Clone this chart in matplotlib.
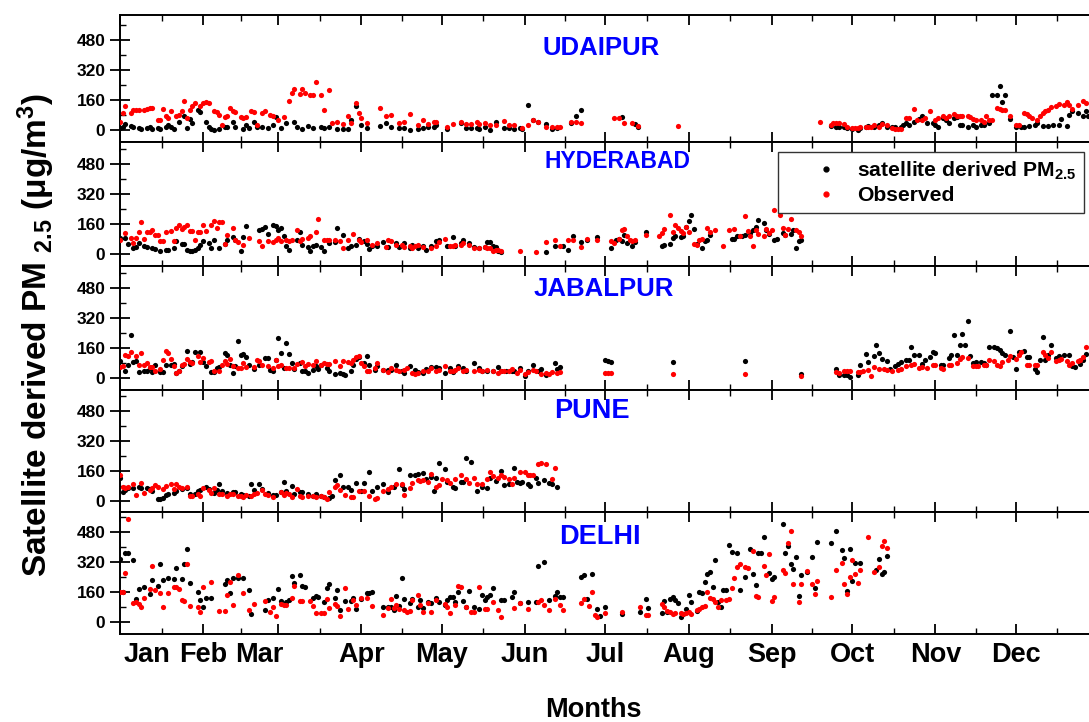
import matplotlib
matplotlib.use("Agg")
import matplotlib.pyplot as plt
from matplotlib.lines import Line2D
from matplotlib.ticker import FixedLocator

plt.rcParams['font.family'] = ['Liberation Sans', 'DejaVu Sans']
plt.rcParams['font.weight'] = 'bold'
plt.rcParams['mathtext.default'] = 'regular'

# ---------------- data (day of year, PM2.5 in ug/m3) ----------------
udaipur_sat_day = [0,1,2,4,5,7,8,10,11,12,14,15,17,18,19,20,22,24,25,26,27,29,30,32,33,34,35,37,39,40,42,43,46,47,48,50,51,53,55,57,58,60,62,65,66,68,70,72,75,76,78,81,83,85,86,88,90,92,97,99,101,104,106,108,111,113,115,117,118,122,127,129,131,133,134,136,138,140,143,145,147,149,150,152,154,156,159,161,163,168,170,172,
                   187,192,193,265,267,268,270,271,273,275,276,278,279,281,283,284,286,288,289,291,292,293,294,296,298,299,301,303,304,305,307,308,309,311,312,313,314,316,318,319,321,322,324,325,327,328,329,330,332,334,336,337,339,341,342,344,346,348,350,351,353,354,355,357,359,360,361]
udaipur_sat_val = [9,18,33,22,18,9,5,13,18,5,9,4,18,27,18,4,45,76,13,58,36,109,95,45,18,5,0,5,18,18,45,18,4,27,9,45,18,18,9,27,69,9,36,45,15,4,22,9,18,9,18,4,5,5,55,127,27,9,22,36,15,9,9,0,5,9,18,15,27,5,36,9,9,9,4,15,0,45,9,9,5,9,4,131,55,45,33,4,9,36,73,109,
                   69,33,18,22,15,15,15,9,4,0,9,18,22,15,27,36,15,15,15,15,27,36,27,45,58,73,40,40,27,15,64,55,36,64,69,27,27,18,27,18,27,27,36,186,186,236,149,186,58,18,18,15,22,27,36,22,22,27,27,58,22,82,100,91,73,100,76]
udaipur_obs_day = [0,1,2,4,5,6,7,9,10,11,12,14,15,16,17,18,19,21,22,23,24,25,26,27,28,30,31,32,33,35,36,37,38,39,40,41,42,43,45,46,47,49,50,51,53,54,56,57,59,61,63,64,65,67,68,69,71,72,73,75,76,78,79,81,83,85,86,88,89,90,92,97,99,101,104,106,108,111,113,115,117,118,122,124,127,129,131,133,134,136,138,140,143,145,147,150,152,154,156,159,161,163,164,168,170,172,
                   184,186,188,191,193,208,261,265,266,267,268,270,271,273,274,275,276,278,279,280,281,283,284,286,288,289,290,291,293,294,296,297,299,300,302,304,305,307,308,309,311,312,313,314,316,317,318,319,321,322,323,324,325,327,328,329,330,332,334,335,337,338,339,340,342,343,344,345,346,347,349,350,352,353,354,355,357,359,360]
udaipur_obs_val = [45,90,127,90,109,109,109,109,113,118,118,55,55,113,73,64,100,73,82,100,155,64,109,127,145,127,142,150,142,100,95,82,27,69,73,115,100,95,69,64,69,100,96,27,91,100,82,73,55,69,155,200,218,191,218,200,186,186,258,186,105,215,36,45,33,73,36,142,91,64,36,115,76,82,36,42,87,27,51,33,42,45,18,33,45,33,33,42,33,36,27,27,49,27,27,9,27,55,45,15,15,15,15,45,45,40,
                   64,64,36,36,22,22,45,27,36,40,36,33,18,9,9,9,15,15,15,18,27,15,33,27,9,4,4,4,64,64,113,55,55,64,100,55,64,73,64,76,87,73,73,73,73,69,58,51,51,45,73,55,55,118,113,109,109,73,27,27,91,87,76,64,55,76,91,100,109,122,127,140,136,149,136,113,136,155,146]

hyderabad_sat_day = [0,2,3,5,6,7,9,10,12,13,15,17,18,20,21,23,24,25,26,27,28,29,30,31,33,34,35,37,39,40,42,43,45,46,47,52,53,54,55,57,58,59,60,61,62,63,66,67,68,70,71,72,73,75,76,78,80,81,83,85,86,88,89,91,92,93,94,96,98,100,103,104,106,108,109,111,113,114,116,118,119,122,124,125,127,128,130,132,134,136,137,138,139,140,141,142,159,162,165,167,169,172,174,178,
                     183,185,186,187,188,189,191,192,196,202,203,205,206,207,209,210,211,212,213,214,215,217,218,219,220,228,229,230,232,233,235,236,237,238,240,241,242,244,245,247,248,250,251,252,253,254]
hyderabad_sat_val = [85,85,55,32,37,59,41,37,32,27,14,23,23,32,68,55,55,23,14,14,23,32,50,68,59,32,73,32,55,76,91,73,14,91,148,126,134,144,108,157,151,130,139,94,41,23,73,116,50,37,14,41,50,37,14,59,62,139,103,32,45,50,80,68,55,27,45,45,62,37,59,37,59,32,50,32,41,23,41,68,76,41,91,45,59,73,59,37,32,37,62,62,45,37,14,9,9,41,41,20,94,62,76,91,
                     32,76,80,68,103,59,45,62,116,45,50,55,85,94,91,94,144,174,210,134,55,32,68,76,103,80,80,94,98,103,112,126,144,183,166,126,108,76,80,112,103,108,126,32,68,73]
hyderabad_obs_day = [0,2,4,5,6,7,8,9,10,11,12,13,14,15,16,17,19,20,21,22,23,24,25,26,27,28,29,30,31,32,34,35,36,37,38,39,40,42,43,44,46,48,52,53,55,57,58,59,60,62,63,64,66,67,68,70,71,73,74,76,77,78,80,82,83,85,87,89,90,92,94,96,99,100,101,103,105,106,108,109,110,111,113,116,118,119,121,123,124,125,127,128,130,132,134,136,137,138,139,140,141,142,149,155,159,162,164,167,169,172,174,178,
                     183,184,186,187,188,189,190,191,192,196,201,202,203,205,206,207,208,209,210,211,212,214,215,216,217,219,220,222,225,227,229,231,233,234,235,236,237,238,240,241,242,243,244,246,247,248,249,250,252,253,254]
hyderabad_obs_val = [76,112,85,59,85,116,169,80,116,116,130,103,103,68,68,116,121,68,139,157,134,144,157,121,121,76,116,116,157,121,157,174,139,169,169,55,103,139,76,62,50,85,68,41,68,62,76,85,68,76,68,76,126,68,80,85,94,116,189,76,76,76,76,68,32,76,108,76,62,76,50,59,37,73,68,50,50,37,41,32,41,50,37,32,45,62,80,45,45,50,50,59,50,32,32,37,32,32,14,23,23,18,14,9,62,73,41,73,76,37,80,73,
                     68,59,80,126,134,94,76,68,76,103,94,112,134,210,116,157,139,121,112,144,116,55,50,76,80,139,116,126,41,126,134,94,205,121,94,45,126,108,94,134,112,126,233,210,139,103,134,187,126,116,94]

jabalpur_sat_day = [0,2,3,4,5,6,7,9,10,11,12,13,15,16,17,19,20,21,22,23,25,26,27,28,30,31,32,34,35,36,37,39,40,41,42,43,44,45,46,47,48,50,52,54,55,56,57,58,59,60,61,62,63,64,65,67,68,69,70,72,73,74,75,77,78,80,82,83,84,86,87,88,89,91,92,93,95,96,98,100,101,103,105,106,108,110,111,113,114,116,118,119,121,123,124,126,128,129,132,134,135,137,139,141,142,144,146,147,149,151,152,154,156,157,159,162,163,164,
                    181,182,183,206,233,254,267,268,270,271,272,275,276,278,279,281,282,283,284,286,287,289,290,291,293,294,295,296,298,299,300,302,303,304,306,307,309,310,311,312,313,314,315,316,317,318,319,321,322,323,324,326,327,328,329,330,332,333,334,335,337,338,339,341,342,343,344,345,346,347,349,350,352,354,355,356,358,359,360]
jabalpur_sat_val = [89,36,68,228,85,89,32,39,36,53,32,71,32,32,71,71,75,27,39,62,146,75,85,139,139,85,62,32,32,53,57,134,121,68,27,62,196,125,128,110,71,50,68,107,107,44,36,98,214,134,53,187,128,80,50,80,36,36,27,44,62,50,68,53,36,21,27,21,14,36,71,103,110,80,116,71,44,62,44,44,44,71,39,27,62,44,32,27,50,57,57,53,27,53,32,62,53,36,80,53,36,36,39,57,39,36,39,36,53,9,39,68,39,50,18,80,50,57,
                    98,93,85,85,89,21,50,18,14,14,4,14,71,128,85,116,174,134,103,89,50,62,75,85,98,98,164,125,125,75,98,110,139,134,71,71,107,121,228,121,174,235,174,306,116,80,85,85,80,68,164,164,160,151,134,121,249,110,50,139,146,110,110,50,32,98,217,98,121,174,107,116,125,121,62,57,75,98,128]
jabalpur_obs_day = [0,1,2,3,4,6,7,8,9,10,11,12,13,15,16,17,18,19,20,21,22,23,24,25,26,27,29,30,31,33,34,35,37,38,39,40,41,42,44,45,46,47,50,51,52,53,55,57,58,59,60,62,63,65,66,68,69,70,72,73,75,76,77,78,80,82,83,85,86,87,88,89,90,91,92,93,95,96,98,100,101,103,104,106,107,109,110,111,113,115,116,118,119,121,123,124,125,126,128,129,132,134,135,137,139,141,142,143,145,146,148,149,151,152,154,155,157,159,160,161,163,164,
                    181,182,183,206,233,254,267,268,270,271,272,275,276,277,279,280,281,283,285,286,288,290,291,293,295,296,298,299,301,303,304,306,307,309,310,312,313,314,316,318,319,320,322,323,324,326,327,328,329,331,332,334,335,336,338,339,341,342,344,345,346,347,349,350,351,353,354,355,357,358,359,360]
jabalpur_obs_val = [57,62,125,116,139,116,71,134,71,80,57,57,36,50,98,146,134,103,62,27,36,68,75,103,85,80,116,85,107,85,89,36,39,71,89,75,103,62,53,53,80,57,57,98,89,71,62,53,98,62,71,53,53,53,75,85,62,75,71,93,71,80,75,75,89,62,89,85,80,98,110,116,80,62,36,39,53,80,44,32,53,44,39,44,53,27,21,27,36,36,53,36,44,62,39,36,44,53,39,44,39,44,36,44,36,27,39,36,39,50,27,44,21,32,44,39,21,27,21,32,27,32,
                    27,27,27,21,21,9,32,27,39,39,39,32,32,39,44,9,57,50,50,44,36,44,50,62,71,75,53,57,53,71,68,53,50,68,71,80,103,110,107,62,62,62,71,68,98,89,71,62,85,98,116,103,121,139,71,68,68,71,139,125,107,139,89,98,103,89,71,80,93,98,110,164]

pune_sat_day = [0,1,2,3,5,7,8,10,11,12,14,15,16,17,18,20,21,23,25,26,28,29,30,32,33,35,36,37,38,40,42,43,45,46,48,49,50,52,53,55,57,58,60,61,62,64,65,67,68,70,72,73,75,76,78,79,80,82,83,85,86,88,90,91,93,94,96,98,100,102,104,105,106,108,110,111,113,114,116,117,118,119,121,122,124,125,127,128,129,131,133,135,137,138,140,142,143,145,147,148,149,150,152,153,155,156,158,160,161,163]
pune_sat_val = [121,50,57,71,68,75,68,68,62,53,9,9,18,32,39,44,53,62,71,39,39,53,57,75,62,44,57,89,53,44,50,50,36,32,27,93,57,93,62,44,32,32,50,103,53,80,39,50,50,39,27,36,27,21,14,27,110,139,75,75,57,98,53,98,157,53,75,93,50,75,169,85,62,139,139,146,151,116,128,53,121,205,169,103,75,68,103,103,231,210,53,75,68,121,107,160,85,89,174,103,98,103,89,80,121,98,110,98,93,75]
pune_obs_day = [0,1,2,3,5,6,8,9,11,12,13,14,16,17,19,20,21,22,23,25,26,27,29,30,31,33,34,35,37,38,40,41,42,44,45,46,47,49,50,51,53,54,55,57,60,61,62,63,64,66,67,68,70,72,73,75,76,77,78,80,81,82,84,86,87,89,91,93,95,96,98,100,101,103,105,106,108,109,111,112,113,115,116,118,119,120,122,123,125,127,129,130,132,133,135,137,138,139,141,142,143,145,146,147,149,151,152,153,154,156,157,159,161,162]
pune_obs_val = [139,75,68,75,89,32,98,44,57,71,85,75,62,80,93,62,93,75,71,75,27,27,36,27,71,57,44,71,39,36,27,39,39,27,27,21,32,27,36,44,57,36,32,21,50,32,44,36,21,62,27,21,27,27,21,27,21,9,50,75,85,57,32,21,21,53,53,27,9,18,53,62,75,93,89,32,71,98,110,107,110,103,146,75,85,116,110,98,116,139,116,98,125,89,89,116,157,134,121,139,128,116,93,125,157,157,139,139,139,199,205,199,116,174]

delhi_sat_day = [0,1,2,3,5,6,7,9,11,12,14,15,16,18,20,21,23,24,25,26,29,30,31,32,34,39,40,41,42,44,46,48,49,54,55,57,59,60,62,63,64,65,67,68,69,72,73,74,76,77,78,80,81,82,84,86,87,88,90,92,93,94,98,100,101,102,103,104,105,106,108,109,111,112,113,115,116,118,119,121,122,123,124,125,126,128,129,130,132,134,135,136,137,138,139,142,143,146,147,149,152,155,156,158,160,162,163,164,165,172,173,174,176,178,179,
                 181,187,194,196,197,202,203,204,205,206,207,208,209,210,211,212,213,215,216,217,218,219,220,221,222,223,224,225,226,227,228,230,231,233,235,236,237,238,239,240,242,243,244,247,248,249,250,251,252,253,254,256,258,259,260,265,267,269,270,271,272,273,274,276,282,283,284,285,286]
delhi_sat_val = [335,162,370,370,331,121,174,185,150,224,192,310,224,233,228,287,228,310,388,210,162,117,82,126,126,203,224,153,233,233,233,171,43,64,117,126,174,114,109,117,246,206,251,192,189,126,139,132,109,180,203,126,171,64,114,114,126,68,121,153,157,162,78,78,82,64,139,85,233,121,103,121,82,117,73,109,103,126,109,91,117,132,132,109,162,114,78,167,82,68,144,117,132,144,180,117,117,132,162,103,109,109,299,322,117,139,162,132,132,242,251,121,256,68,32,
                 78,43,55,121,73,50,114,55,121,135,117,103,25,43,68,144,109,61,162,157,215,256,269,185,331,109,82,171,171,411,376,370,171,239,388,256,198,370,370,452,263,228,239,523,370,406,310,281,345,139,251,269,345,180,429,424,488,384,340,167,388,221,317,317,278,335,256,269,352]
delhi_obs_day = [0,1,2,3,5,6,7,8,9,11,12,13,15,16,18,20,21,22,23,24,25,26,29,30,31,34,37,39,40,41,42,44,46,48,50,54,56,57,58,60,61,62,64,65,67,68,71,72,73,75,76,77,78,80,81,82,84,85,87,88,90,92,94,98,100,101,102,103,104,106,107,108,109,111,112,113,115,116,118,121,122,123,125,126,127,129,131,132,134,136,137,139,141,142,147,149,152,156,157,158,160,162,164,165,172,173,175,176,177,178,
                 181,187,194,196,197,202,203,204,205,206,207,209,210,211,212,213,215,216,217,218,219,220,221,222,223,224,226,227,228,229,230,231,233,234,236,237,238,240,241,242,243,244,247,248,249,250,251,253,254,256,258,259,260,265,267,269,270,271,272,273,274,275,276,279,281,283,284,285,286]
delhi_obs_val = [162,162,263,548,103,109,96,78,126,174,299,171,153,82,153,185,185,174,117,114,310,85,78,55,185,215,61,61,144,215,91,251,153,64,96,114,55,78,32,96,91,91,126,192,114,114,114,85,50,50,50,121,73,96,85,32,180,68,117,91,126,126,85,37,73,121,73,91,68,64,55,61,117,144,91,55,103,55,117,96,82,50,91,194,185,82,55,55,185,68,68,109,64,28,73,103,68,109,117,91,64,121,91,64,100,121,85,162,37,25,
                 50,55,78,37,37,96,78,61,55,43,46,46,43,46,55,43,64,68,78,85,162,126,121,109,78,117,117,121,180,233,292,310,292,287,381,139,132,299,251,363,114,132,278,260,420,488,203,109,203,274,203,150,221,132,278,317,203,150,239,331,256,206,278,456,269,292,406,434,393]

cities = ["UDAIPUR", "HYDERABAD", "JABALPUR", "PUNE", "DELHI"]
sat_days = [udaipur_sat_day, hyderabad_sat_day, jabalpur_sat_day, pune_sat_day, delhi_sat_day]
sat_vals = [udaipur_sat_val, hyderabad_sat_val, jabalpur_sat_val, pune_sat_val, delhi_sat_val]
obs_days = [udaipur_obs_day, hyderabad_obs_day, jabalpur_obs_day, pune_obs_day, delhi_obs_day]
obs_vals = [udaipur_obs_val, hyderabad_obs_val, jabalpur_obs_val, pune_obs_val, delhi_obs_val]

month_names = ["Jan", "Feb", "Mar", "Apr", "May", "Jun", "Jul", "Aug", "Sep", "Oct", "Nov", "Dec"]
month_starts = [0, 31, 59, 90, 120, 151, 181, 212, 243, 273, 304, 334]
month_label_pos = [10, 31, 52, 90, 120, 151, 181, 212, 243, 273, 304, 334]
y_ticks = [0, 160, 320, 480]
y_minor = [80, 240, 400, 560]

# ---------------- layout ----------------
W, H = 1089, 722
fig = plt.figure(figsize=(W / 100, H / 100), dpi=100)
x_left, x_right = 120, 1099
tops = [15, 142, 266, 390, 512]
bots = [142, 266, 390, 512, 634]
zeros = [130, 254, 378, 501, 622]
pxu = 30.0 / 160.0
title_x = [601, 617, 604, 592, 600]
title_y = [48, 162, 289, 411, 537]
title_size = [18.5, 16.5, 18.5, 19.5, 19.5]

axes = []
for i in range(5):
    ax = fig.add_axes([x_left / W, 1 - bots[i] / H, (x_right - x_left) / W, (bots[i] - tops[i]) / H])
    axes.append(ax)
    ax.scatter(sat_days[i], sat_vals[i], s=14, color="black", linewidths=0, zorder=3)
    ax.scatter(obs_days[i], obs_vals[i], s=14, color="#ff0000", linewidths=0, zorder=4)
    ax.set_xlim(0, 365)
    ax.set_ylim(-(bots[i] - zeros[i]) / pxu, (zeros[i] - tops[i]) / pxu)
    ax.set_yticks(y_ticks)
    ax.set_yticklabels([str(v) for v in y_ticks], fontsize=12.5, fontweight="bold")
    ax.yaxis.set_minor_locator(FixedLocator(y_minor))
    ax.set_xticks(month_starts)
    ax.set_xticklabels([])
    ax.xaxis.set_minor_locator(FixedLocator([(a + b) / 2 for a, b in zip(month_starts, month_starts[1:] + [365])]))
    ax.tick_params(axis="y", which="major", direction="inout", length=15, width=1.3, right=True, pad=3)
    ax.tick_params(axis="y", which="minor", direction="in", length=4, width=1.0, right=True)
    ax.tick_params(axis="x", which="major", direction="in", length=7, width=1.3, top=True)
    ax.tick_params(axis="x", which="minor", direction="in", length=4, width=1.0, top=True)
    for sp in ax.spines.values():
        sp.set_linewidth(1.4)
    ax.text((title_x[i] - x_left) / (x_right - x_left), (bots[i] - title_y[i]) / (bots[i] - tops[i]),
            cities[i], transform=ax.transAxes, color="#0000ff", fontsize=title_size[i], fontweight="bold",
            ha="center", va="center")

axb = axes[-1]
for name, pos in zip(month_names, month_label_pos):
    axb.text(pos, -21 / (bots[4] - tops[4]), name, transform=axb.get_xaxis_transform(),
             ha="center", va="center", fontsize=19.5, fontweight="bold")

fig.text(593 / W, 1 - 710 / H, "Months", ha="center", va="center", fontsize=19.5, fontweight="bold")
fig.text(36 / W, 1 - 335 / H, "Satellite derived PM $_{2.5}$ (μg/m$^{3}$)", rotation=90,
         ha="center", va="center", fontsize=24, fontweight="bold")

handles = [Line2D([], [], marker="o", linestyle="none", color="black", markersize=3.5),
           Line2D([], [], marker="o", linestyle="none", color="#ff0000", markersize=3.5)]
leg = axes[1].legend(handles, ["satellite derived PM$_{2.5}$", "Observed"], loc="upper left",
                     bbox_to_anchor=((778 - x_left) / (x_right - x_left), (266 - 152) / 124),
                     borderaxespad=0, frameon=True, fancybox=False, framealpha=1, edgecolor="#333333",
                     prop={"size": 15.2, "weight": "bold"}, handlelength=3.8, handletextpad=-0.4,
                     borderpad=0.35, labelspacing=0.22)
leg.get_frame().set_linewidth(1.0)
leg.set_zorder(10)

fig.savefig("out.png", dpi=100)
